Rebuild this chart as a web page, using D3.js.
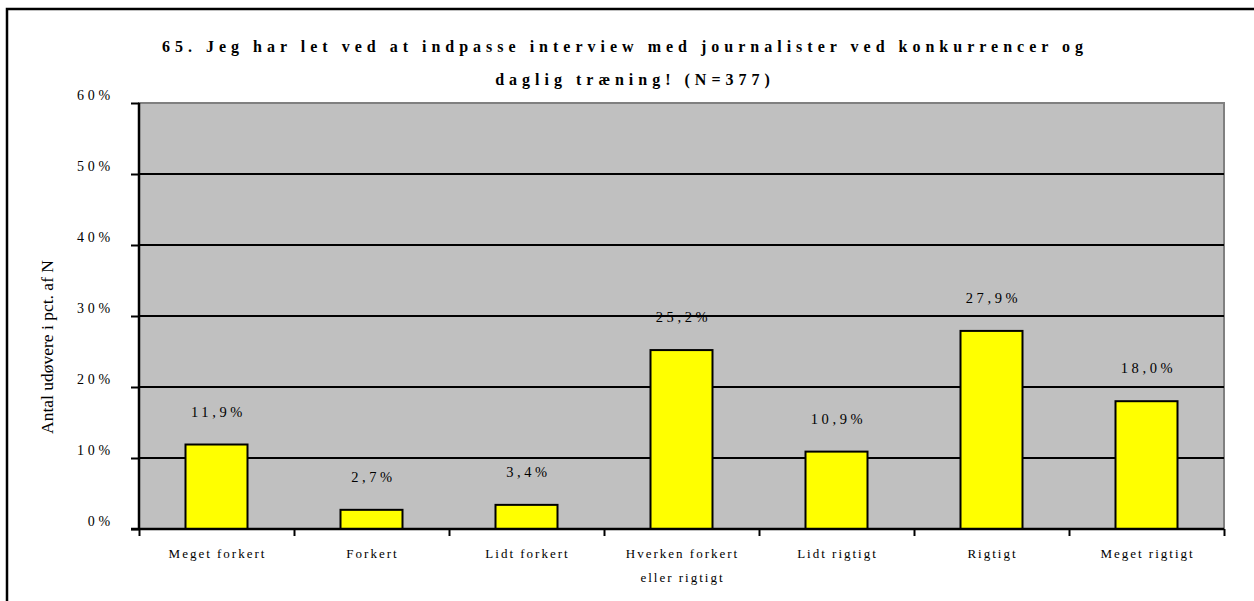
<!DOCTYPE html>
<html><head><meta charset="utf-8">
<script src="https://cdn.jsdelivr.net/npm/d3@7"></script>
<style>body{margin:0;background:#fff}svg{display:block}</style>
</head><body>
<script>
const categories = ["Meget forkert","Forkert","Lidt forkert","Hverken forkert|eller rigtigt","Lidt rigtigt","Rigtigt","Meget rigtigt"];
const values = [11.9, 2.7, 3.4, 25.2, 10.9, 27.9, 18.0];
const valueLabels = ["11,9%","2,7%","3,4%","25,2%","10,9%","27,9%","18,0%"];
const yTicks = [0,10,20,30,40,50,60];
const titleLines = ["65. Jeg har let ved at indpasse interview med journalister ved konkurrencer og","daglig træning! (N=377)"];
const yTitle = "Antal udøvere i pct. af N";

const W=1254,H=601;
const m={l:139,t:103,r:1224,b:529};
const svg=d3.select("body").append("svg").attr("width",W).attr("height",H);
svg.append("rect").attr("x",7).attr("y",9).attr("width",1260).attr("height",620).attr("fill","#fff").attr("stroke","#000").attr("stroke-width",2.5);

const x=d3.scaleBand().domain(categories).range([m.l,m.r]).paddingInner(0).paddingOuter(0);
const y=d3.scaleLinear().domain([0,60]).range([m.b,m.t]);

svg.append("rect").attr("x",m.l).attr("y",m.t).attr("width",m.r-m.l).attr("height",m.b-m.t).attr("fill","#c0c0c0").attr("stroke","#808080").attr("stroke-width",2);

// gridlines
svg.append("g").selectAll("line").data(yTicks.filter(d=>d>0&&d<60)).join("line")
 .attr("x1",m.l).attr("x2",m.r).attr("y1",d=>y(d)).attr("y2",d=>y(d)).attr("stroke","#000").attr("stroke-width",2);

// bars
const bw=x.bandwidth()*0.4;
svg.append("g").selectAll("rect").data(values).join("rect")
 .attr("x",(d,i)=>x(categories[i])+(x.bandwidth()-bw)/2).attr("width",bw)
 .attr("y",d=>y(d)).attr("height",d=>y(0)-y(d))
 .attr("fill","#ffff00").attr("stroke","#000").attr("stroke-width",2);

// value labels
svg.append("g").selectAll("text").data(values).join("text")
 .attr("x",(d,i)=>x(categories[i])+x.bandwidth()/2+2).attr("y",d=>y(d)-28)
 .attr("text-anchor","middle").attr("font-family","Liberation Serif").attr("font-size",14.5)
 .attr("letter-spacing",3.6).attr("fill","#000").text((d,i)=>valueLabels[i]);

// y axis
const yAxis=d3.axisLeft(y).tickValues(yTicks).tickSize(8).tickFormat(d=>d+"%");
const ga=svg.append("g").attr("transform",`translate(${m.l},0)`).call(yAxis);
ga.select(".domain").attr("stroke","#000").attr("stroke-width",2.5).attr("d",`M0,${m.t}V${m.b}`);
ga.selectAll(".tick line").attr("stroke","#000").attr("stroke-width",2);
ga.selectAll(".tick text").attr("x",-25).attr("dy","-0.25em").attr("font-family","Liberation Serif").attr("font-size",14).attr("letter-spacing",3.8).attr("fill","#000");

// x axis
const xb=d3.scaleLinear().domain([0,categories.length]).range([m.l,m.r]);
const xAxis=d3.axisBottom(xb).tickValues(d3.range(0,categories.length+1)).tickSize(7).tickFormat("");
const gx=svg.append("g").attr("transform",`translate(0,${m.b})`).call(xAxis);
gx.select(".domain").attr("stroke","#000").attr("stroke-width",2.5).attr("d",`M${m.l-8},0H${m.r}`);
gx.selectAll(".tick line").attr("stroke","#000").attr("stroke-width",2);

const cl=svg.append("g").selectAll("text").data(categories).join("text")
 .attr("text-anchor","middle").attr("font-family","Liberation Serif").attr("font-size",13)
 .attr("letter-spacing",2).attr("fill","#000");
cl.each(function(d){
  const t=d3.select(this); const cx=x(d)+x.bandwidth()/2+1;
  d.split("|").forEach((s,i)=>t.append("tspan").attr("x",cx).attr("y",558+i*24).text(s));
});

// title
svg.append("g").selectAll("text").data(titleLines).join("text")
 .attr("x",(d,i)=>i===0?625:635).attr("y",(d,i)=>52+i*33).attr("text-anchor","middle")
 .attr("font-family","Liberation Serif").attr("font-weight","bold").attr("font-size",16)
 .attr("letter-spacing",5).attr("fill","#000").text(d=>d);

// y title
svg.append("text").attr("transform",`translate(53,347) rotate(-90)`).attr("text-anchor","middle")
 .attr("font-family","Liberation Serif").attr("font-size",17.5).attr("fill","#000").text(yTitle);
</script>
</body></html>
